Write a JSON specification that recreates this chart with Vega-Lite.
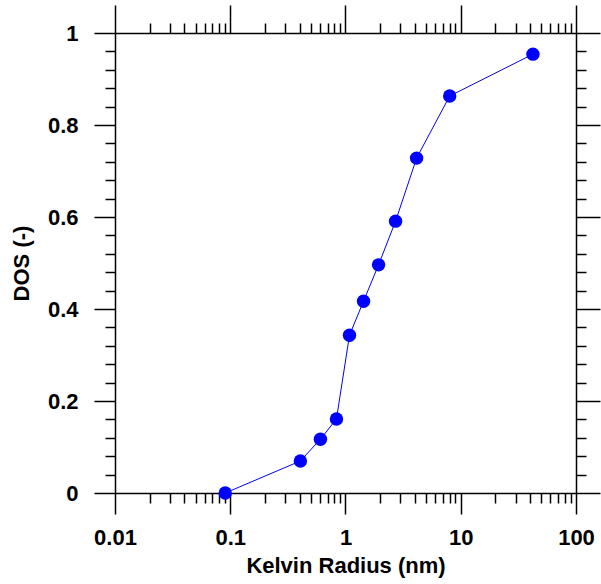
{
  "$schema": "https://vega.github.io/schema/vega-lite/v6.json",
  "autosize": {"type": "none"},
  "padding": {"left": 115, "top": 33, "right": 25, "bottom": 91},
  "width": 461,
  "height": 460,
  "background": "white",
  "config": {
    "view": {"stroke": null},
    "axis": {
      "grid": false,
      "domainColor": "black",
      "domainWidth": 1.5,
      "tickColor": "black",
      "tickWidth": 1.5,
      "labelFont": "Liberation Sans",
      "labelFontWeight": "bold",
      "labelFontSize": 22,
      "labelColor": "black",
      "titleFont": "Liberation Sans",
      "titleFontWeight": "bold",
      "titleFontSize": 22,
      "titleColor": "black"
    }
  },
  "data": {
    "values": [
      {"r": 0.0905, "dos": 0.0},
      {"r": 0.406, "dos": 0.0696},
      {"r": 0.606, "dos": 0.117},
      {"r": 0.835, "dos": 0.161},
      {"r": 1.083, "dos": 0.343},
      {"r": 1.434, "dos": 0.417},
      {"r": 1.936, "dos": 0.496},
      {"r": 2.72, "dos": 0.591},
      {"r": 4.14, "dos": 0.728},
      {"r": 8.02, "dos": 0.863},
      {"r": 42.3, "dos": 0.954}
    ]
  },
  "resolve": {"axis": {"x": "independent", "y": "independent"}},
  "layer": [
    {
      "mark": {"type": "line", "color": "#0000FF", "strokeWidth": 1},
      "encoding": {
        "x": {
          "field": "r", "type": "quantitative",
          "scale": {"type": "log", "domain": [0.01, 100], "nice": false},
          "axis": {
            "orient": "bottom",
            "title": "Kelvin Radius (nm)",
            "titlePadding": 7,
            "values": [0.01,0.02,0.03,0.04,0.05,0.06,0.07,0.08,0.09,0.1,0.2,0.3,0.4,0.5,0.6,0.7,0.8,0.9,1,2,3,4,5,6,7,8,9,10,20,30,40,50,60,70,80,90,100],
            "labelExpr": "abs(log(datum.value)/LN10 - round(log(datum.value)/LN10)) < 1e-6 ? format(datum.value, '~g') : ''",
            "tickSize": {"condition": {"test": "abs(log(datum.value)/LN10 - round(log(datum.value)/LN10)) < 1e-6", "value": 21}, "value": 10},
            "labelPadding": 13,
            "labelFlush": false,
            "labelOverlap": false
          }
        },
        "y": {
          "field": "dos", "type": "quantitative",
          "scale": {"domain": [0, 1], "nice": false},
          "axis": {
            "orient": "left",
            "title": "DOS (-)",
            "titlePadding": 14,
            "values": [0,0.04,0.08,0.12,0.16,0.2,0.24,0.28,0.32,0.36,0.4,0.44,0.48,0.52,0.56,0.6,0.64,0.68,0.72,0.76,0.8,0.84,0.88,0.92,0.96,1],
            "labelExpr": "abs(datum.value*5 - round(datum.value*5)) < 1e-6 ? format(datum.value, '~g') : ''",
            "tickSize": {"condition": {"test": "abs(datum.value*5 - round(datum.value*5)) < 1e-6", "value": 21}, "value": 10},
            "labelPadding": 16,
            "labelOverlap": false,
            "labelFlush": false
          }
        }
      }
    },
    {
      "mark": {"type": "circle", "color": "#0000FF", "opacity": 1, "size": 180},
      "encoding": {
        "x": {
          "field": "r", "type": "quantitative",
          "axis": {
            "orient": "top",
            "title": null,
            "labels": false,
            "values": [0.01,0.02,0.03,0.04,0.05,0.06,0.07,0.08,0.09,0.1,0.2,0.3,0.4,0.5,0.6,0.7,0.8,0.9,1,2,3,4,5,6,7,8,9,10,20,30,40,50,60,70,80,90,100],
            "tickSize": {"condition": {"test": "abs(log(datum.value)/LN10 - round(log(datum.value)/LN10)) < 1e-6", "value": 28}, "value": 10}
          }
        },
        "y": {
          "field": "dos", "type": "quantitative",
          "axis": {
            "orient": "right",
            "title": null,
            "labels": false,
            "values": [0,0.04,0.08,0.12,0.16,0.2,0.24,0.28,0.32,0.36,0.4,0.44,0.48,0.52,0.56,0.6,0.64,0.68,0.72,0.76,0.8,0.84,0.88,0.92,0.96,1],
            "tickSize": {"condition": {"test": "abs(datum.value*5 - round(datum.value*5)) < 1e-6", "value": 24}, "value": 10}
          }
        }
      }
    }
  ]
}
